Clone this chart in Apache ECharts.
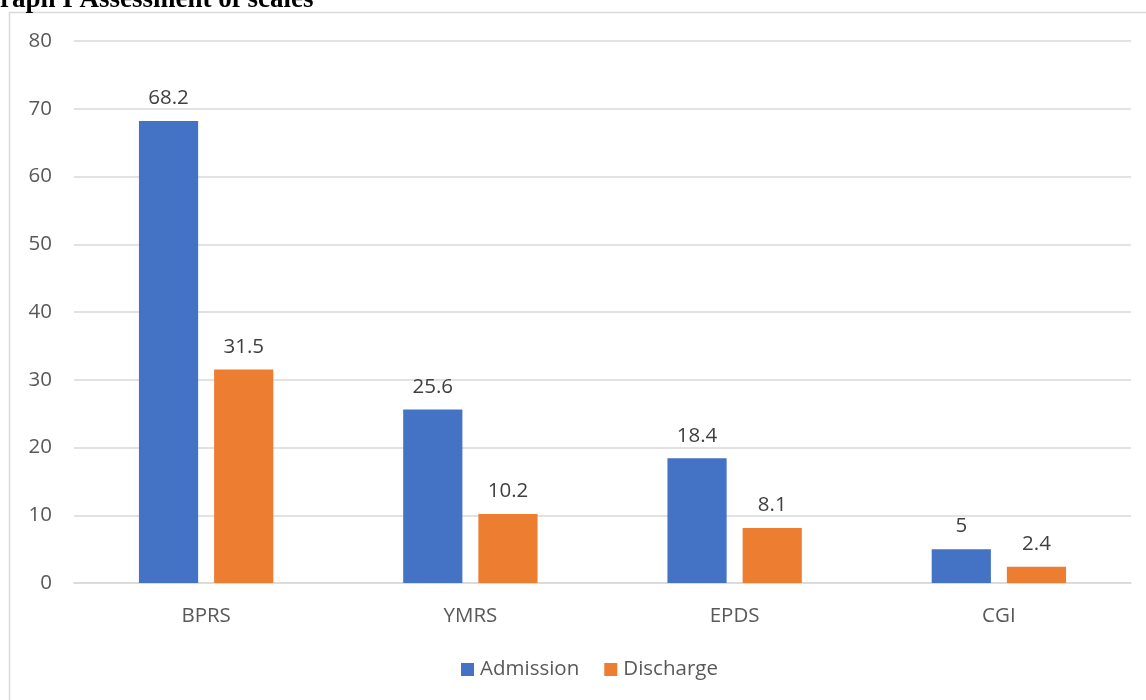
<!DOCTYPE html>
<html><head><meta charset="utf-8">
<script src="https://cdn.jsdelivr.net/npm/echarts@6/dist/echarts.min.js"></script>
<style>html,body{margin:0;padding:0;background:#fff}#c{width:1146px;height:700px}</style>
</head><body><div id="c"></div>
<script>
const categories = ['BPRS', 'YMRS', 'EPDS', 'CGI'];
const admission = [68.2, 25.6, 18.4, 5];
const discharge = [31.5, 10.2, 8.1, 2.4];
const seriesNames = ['Admission', 'Discharge'];
const titleText = 'Graph I Assessment of scales';

const chart = echarts.init(document.getElementById('c'), null, {renderer: 'canvas'});
const font = '"Open Sans", sans-serif';
const fs = 20.5;
chart.setOption({
  animation: false,
  backgroundColor: '#fff',
  graphic: [
    {type: 'rect', shape: {x: 9.5, y: 12.5, width: 1150, height: 700}, style: {fill: 'none', stroke: '#d9d9d9', lineWidth: 1.5}, z: 0},
    {type: 'text', x: -21, y: -13, style: {text: titleText, fontSize: 27, fontWeight: 'bold', fontFamily: '"Liberation Serif", "Times New Roman", serif', fill: '#000'}, z: 10}
  ],
  grid: {left: 74, right: 15, top: 41, bottom: 117, containLabel: false},
  legend: {
    bottom: 15, left: 456,
    itemWidth: 13, itemHeight: 13, itemGap: 25,
    icon: 'rect',
    textStyle: {fontFamily: font, fontSize: fs, color: '#595959', padding: [0, 0, 0, 1]},
    data: seriesNames
  },
  xAxis: {
    type: 'category', data: categories,
    axisLine: {lineStyle: {color: '#d9d9d9', width: 1.5}},
    axisTick: {show: false},
    axisLabel: {fontFamily: font, fontSize: fs, color: '#595959', margin: 23}
  },
  yAxis: {
    type: 'value', min: 0, max: 80, interval: 10,
    axisLine: {show: false}, axisTick: {show: false},
    splitLine: {lineStyle: {color: '#d9d9d9', width: 1.5}},
    axisLabel: {fontFamily: font, fontSize: fs, color: '#595959', margin: 22}
  },
  series: [
    {name: seriesNames[0], type: 'bar', data: admission, barWidth: '22.4%', barGap: '27%',
     itemStyle: {color: '#4472c4'},
     label: {show: true, position: 'top', distance: 12, fontFamily: font, fontSize: fs, color: '#404040'}},
    {name: seriesNames[1], type: 'bar', data: discharge, barWidth: '22.4%', barGap: '27%',
     itemStyle: {color: '#ed7d31'},
     label: {show: true, position: 'top', distance: 12, fontFamily: font, fontSize: fs, color: '#404040'}}
  ]
});
</script></body></html>
